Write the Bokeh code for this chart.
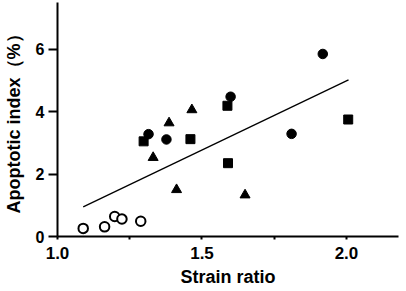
from bokeh.plotting import figure
from bokeh.models import Range1d, FixedTicker, PrintfTickFormatter
from bokeh.embed import file_html
from bokeh.resources import INLINE

# Data
open_x = [1.089, 1.163, 1.198, 1.223, 1.288]
open_y = [0.26, 0.31, 0.64, 0.56, 0.49]

circle_x = [1.315, 1.377, 1.599, 1.810, 1.918]
circle_y = [3.28, 3.11, 4.48, 3.29, 5.85]

square_x = [1.298, 1.460, 1.588, 1.590, 2.006]
square_y = [3.05, 3.12, 4.19, 2.35, 3.75]

tri_x = [1.331, 1.386, 1.412, 1.465, 1.649]
tri_y = [2.53, 3.64, 1.50, 4.06, 1.33]

fit_x = [1.089, 2.007]
fit_y = [0.95, 5.02]

x_major = [1.0, 1.5, 2.0]
x_minor = [1.25, 1.75]
y_major = [0, 2, 4, 6]

FONT = "Liberation Sans"

p = figure(width=406, height=291, output_backend="svg", toolbar_location=None,
           x_range=Range1d(1.0, 2.18), y_range=Range1d(0, 7.5),
           min_border_left=52, min_border_right=8, min_border_top=2,
           min_border_bottom=55)
p.outline_line_color = None
p.grid.visible = False
p.background_fill_color = "white"
p.border_fill_color = "white"

# regression line
p.line(fit_x, fit_y, line_color="black", line_width=1.3)

# markers
p.scatter(open_x, open_y, marker="circle", size=9.5, fill_color="white",
          line_color="black", line_width=2)
p.scatter(circle_x, circle_y, marker="circle", size=9.5, fill_color="black",
          line_color="black")
p.scatter(square_x, square_y, marker="square", size=9, fill_color="black",
          line_color="black")
p.scatter(tri_x, tri_y, marker="triangle", size=10, fill_color="black",
          line_color="black")

# x axis
xa = p.xaxis[0]
xa.ticker = FixedTicker(ticks=x_major, minor_ticks=x_minor)
xa.formatter = PrintfTickFormatter(format="%.1f")
xa.axis_label = "Strain ratio"
xa.axis_line_width = 2
xa.axis_line_color = "black"
xa.major_tick_line_width = 2
xa.minor_tick_line_width = 2
xa.major_tick_in = 0
xa.major_tick_out = 3
xa.minor_tick_in = 0
xa.minor_tick_out = 3
xa.major_label_standoff = 7
xa.axis_label_standoff = 5
xa.major_label_text_font = FONT
xa.major_label_text_font_style = "bold"
xa.major_label_text_font_size = "17px"
xa.major_label_text_color = "black"
xa.axis_label_text_font = FONT
xa.axis_label_text_font_style = "bold"
xa.axis_label_text_font_size = "18px"
xa.axis_label_text_color = "black"

# y axis
ya = p.yaxis[0]
ya.ticker = FixedTicker(ticks=y_major, minor_ticks=[])
ya.axis_label = "Apoptotic index（%）"
ya.axis_line_width = 2
ya.axis_line_color = "black"
ya.major_tick_line_width = 2
ya.major_tick_in = 0
ya.major_tick_out = 9
ya.minor_tick_line_color = None
ya.major_label_standoff = 4
ya.axis_label_standoff = 9
ya.major_label_text_font = FONT
ya.major_label_text_font_style = "bold"
ya.major_label_text_font_size = "16px"
ya.major_label_text_color = "black"
ya.axis_label_text_font = FONT
ya.axis_label_text_font_style = "bold"
ya.axis_label_text_font_size = "18px"
ya.axis_label_text_color = "black"

open("out.html", "w").write(file_html(p, INLINE))
